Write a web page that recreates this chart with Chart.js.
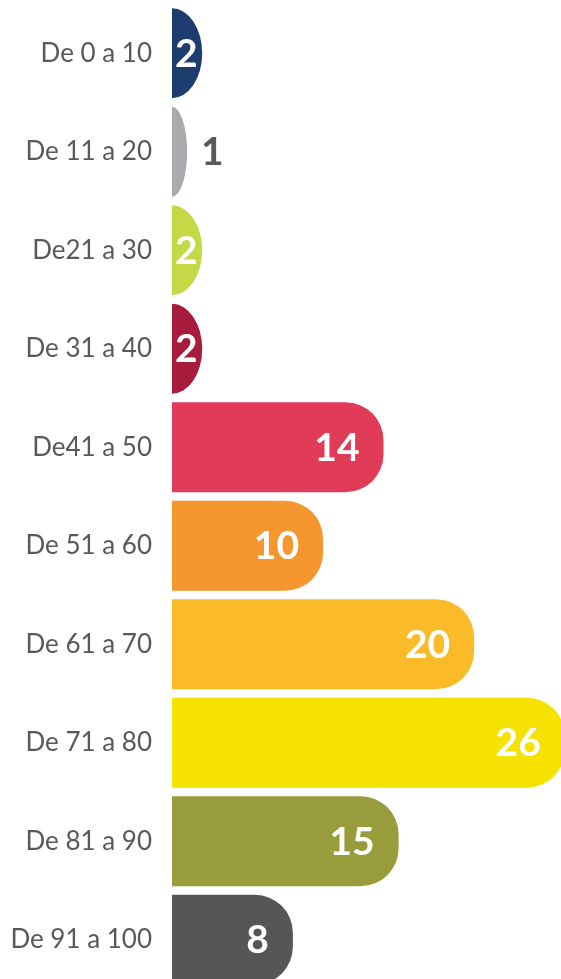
<!DOCTYPE html>
<html>
<head>
<meta charset="utf-8">
<script src="https://cdn.jsdelivr.net/npm/chart.js@4"></script>
<style>
  html, body { margin: 0; padding: 0; background: #fff; overflow: hidden; }
  #wrap { position: relative; width: 561px; height: 990px; }
</style>
</head>
<body>
<div id="wrap"><canvas id="grafico"></canvas></div>
<script>
const faixas = ['De 0 a 10', 'De 11 a 20', 'De21 a 30', 'De 31 a 40', 'De41 a 50',
  'De 51 a 60', 'De 61 a 70', 'De 71 a 80', 'De 81 a 90', 'De 91 a 100']
const quantidades = [2, 1, 2, 2, 14, 10, 20, 26, 15, 8]
const cores = ['#1e3d6f', '#a8aaad', '#c4d945', '#a71b3d', '#e13b58',
  '#f5962f', '#fbbb29', '#f6e200', '#999c3a', '#545658']

const raio = 38

// desenha as barras com a ponta arredondada (meia elipse nas barras curtas)
const pontaRedonda = {
  id: 'pontaRedonda',
  beforeDatasetDraw(chart, args) {
    const ctx = chart.ctx
    args.meta.data.forEach((bar, i) => {
      const p = bar.getProps(['x', 'y', 'base', 'height'], true)
      const left = Math.min(p.base, p.x)
      const right = Math.max(p.base, p.x)
      const top = p.y - p.height / 2
      const bottom = p.y + p.height / 2
      const w = right - left
      const rx = Math.min(raio, w)
      const ry = w < raio ? p.height / 2 : Math.min(raio, p.height / 2)
      ctx.save()
      ctx.fillStyle = cores[i]
      ctx.beginPath()
      ctx.moveTo(left, top)
      ctx.lineTo(right - rx, top)
      ctx.ellipse(right - rx, top + ry, rx, ry, 0, -Math.PI / 2, 0)
      ctx.lineTo(right, bottom - ry)
      ctx.ellipse(right - rx, bottom - ry, rx, ry, 0, 0, Math.PI / 2)
      ctx.lineTo(left, bottom)
      ctx.closePath()
      ctx.fill()
      ctx.restore()
    })
    return false
  },
  afterDatasetsDraw(chart) {
    const ctx = chart.ctx
    const meta = chart.getDatasetMeta(0)
    ctx.save()
    ctx.font = 'bold 39px Lato'
    ctx.textBaseline = 'middle'
    meta.data.forEach((bar, i) => {
      const p = bar.getProps(['x', 'y', 'base'], true)
      const w = p.x - p.base
      const txt = String(quantidades[i])
      if (w < 20) {
        ctx.fillStyle = '#58595b'
        ctx.textAlign = 'left'
        ctx.fillText(txt, p.x + 14, p.y + 1)
      } else if (w < 60) {
        ctx.fillStyle = '#ffffff'
        ctx.textAlign = 'left'
        ctx.fillText(txt, p.base + 3, p.y + 1)
      } else {
        ctx.fillStyle = '#ffffff'
        ctx.textAlign = 'right'
        ctx.fillText(txt, p.x - 24, p.y + 1)
      }
    })
    ctx.restore()
  }
}

new Chart(document.getElementById('grafico'), {
  type: 'bar',
  data: {
    labels: faixas,
    datasets: [{
      data: quantidades,
      backgroundColor: cores,
      barPercentage: 0.914,
      categoryPercentage: 1
    }]
  },
  options: {
    indexAxis: 'y',
    responsive: true,
    maintainAspectRatio: false,
    animation: false,
    layout: { padding: { top: 4, bottom: 1, left: 0, right: 0 } },
    plugins: {
      legend: { display: false },
      tooltip: { enabled: false }
    },
    scales: {
      x: {
        display: false,
        min: 0,
        max: 25.75
      },
      y: {
        afterFit(scale) {
          scale.width = 172
          scale.paddingTop = 0
          scale.paddingBottom = 0
        },
        border: { display: false },
        grid: { display: false, drawTicks: false },
        ticks: {
          color: '#58595b',
          padding: 20,
          font: { family: 'Lato', size: 26 }
        }
      }
    }
  },
  plugins: [pontaRedonda]
})
</script>
</body>
</html>
